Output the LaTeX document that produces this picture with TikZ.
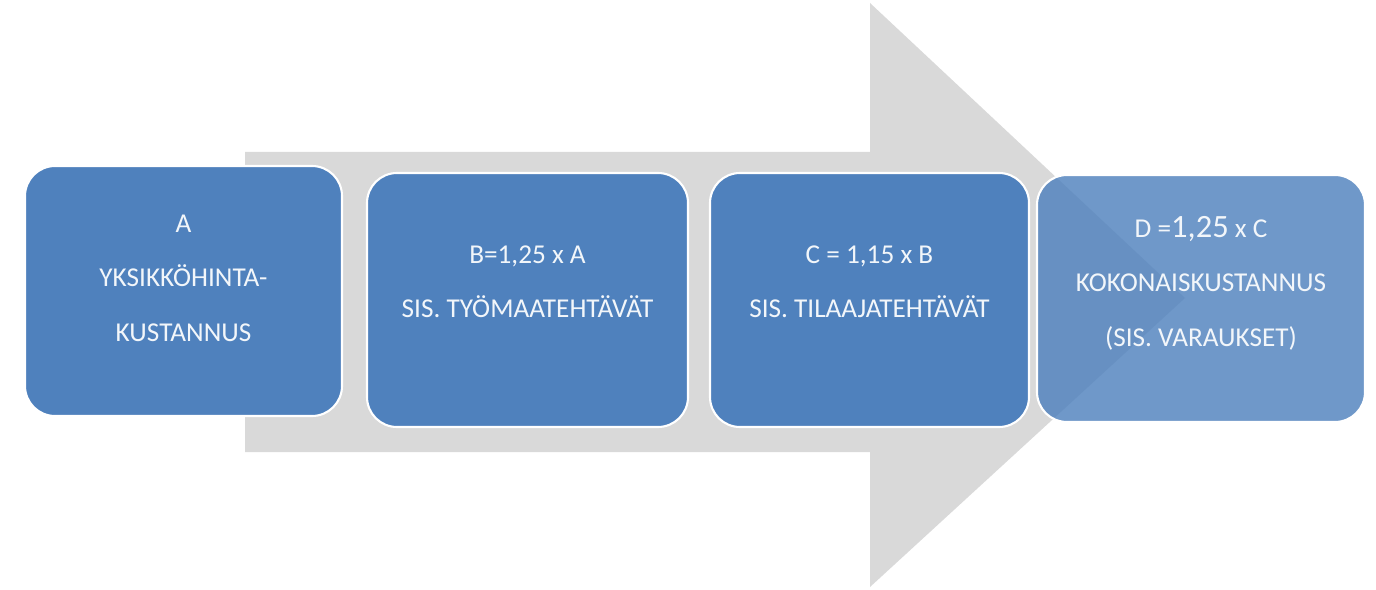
\documentclass[tikz,border=0pt]{standalone}
\usepackage{fontspec}
\setmainfont{Carlito}
\definecolor{boxblue}{RGB}{79,129,189}
\definecolor{arrowgray}{RGB}{217,217,217}
\definecolor{labelwhite}{RGB}{242,246,250}
\begin{document}
\begin{tikzpicture}[x=0.02cm,y=0.02cm,
  stagebox/.style={draw=white, line width=1.2pt, fill=boxblue, rounded corners=0.6cm, inner sep=0pt},
  stagetext/.style={text=labelwhite, align=center, font=\fontsize{15.5}{31}\selectfont, inner sep=0pt}]
\useasboundingbox (0,0) rectangle (1376,589);
% big background arrow
\fill[arrowgray] (245,437) -- (870,437) -- (870,586) -- (1185,291) -- (870,2) -- (870,137) -- (245,137) -- cycle;
% boxes
\node[stagebox, minimum width=317*0.02cm, minimum height=250*0.02cm] (A) at (183.5,298) {};
\node[stagebox, minimum width=321*0.02cm, minimum height=254*0.02cm] (B) at (527.5,289) {};
\node[stagebox, minimum width=319*0.02cm, minimum height=254*0.02cm] (C) at (869.5,289) {};
\node[stagebox, fill opacity=0.82, minimum width=328*0.02cm, minimum height=247*0.02cm] (D) at (1201,290.5) {};
% texts
\node[stagetext] (At) at (183.5,311) {A\\YKSIKKÖHINTA-\\KUSTANNUS};
\node[stagetext] (Bt) at (527.5,307) {B=1,25 x A\\SIS. TYÖMAATEHTÄVÄT};
\node[stagetext] (Ct) at (869.5,307) {C = 1,15 x B\\SIS. TILAAJATEHTÄVÄT};
\node[stagetext] (Dt) at (1201,306) {D =\fontsize{18.5}{31}\selectfont 1,25\fontsize{15.5}{31}\selectfont{} x C\\KOKONAISKUSTANNUS\\(SIS. VARAUKSET)};
\end{tikzpicture}
\end{document}
